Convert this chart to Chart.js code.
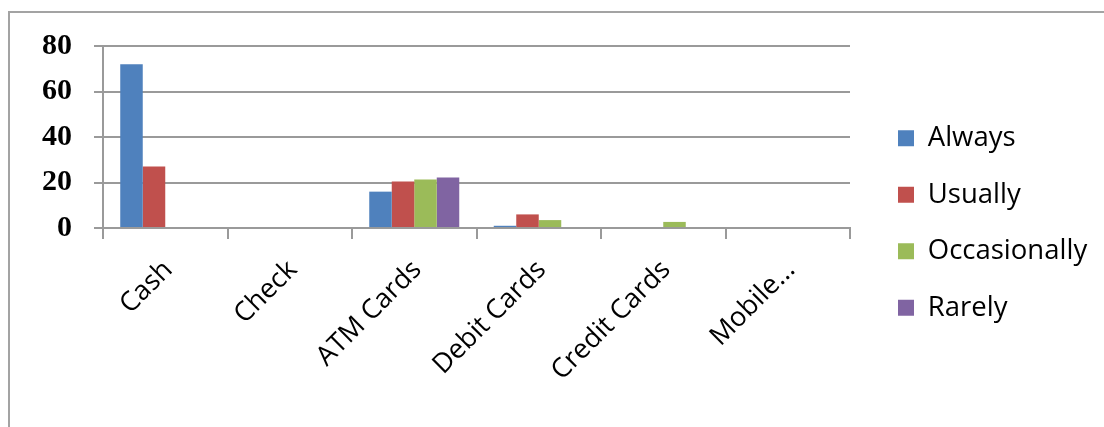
<!DOCTYPE html>
<html>
<head>
<meta charset="utf-8">
<title>Payment methods</title>
<script src="https://cdn.jsdelivr.net/npm/chart.js@4/dist/chart.umd.min.js"></script>
<style>
  html, body { margin: 0; padding: 0; background: #ffffff; }
  #wrap { position: relative; width: 1104px; height: 427px; overflow: hidden; }
  #frame {
    position: absolute; left: 8px; top: 11px; width: 1200px; height: 600px;
    border-top: 2px solid #a3a3a3; border-left: 2px solid #a3a3a3;
  }
  canvas { position: absolute; left: 0; top: 0; }
</style>
</head>
<body>
<div id="wrap">
  <div id="frame"></div>
  <canvas id="chart" width="1104" height="427"></canvas>
</div>
<script>
// Payment methods and how often respondents use them
const categories = ['Cash', 'Check', 'ATM Cards', 'Debit Cards', 'Credit Cards', 'Mobile...'];
const always       = [72, 0, 16, 1, 0, 0];
const usually      = [27, 0, 20.5, 6, 0, 0];
const occasionally = [0, 0, 21.3, 3.5, 2.7, 0];
const rarely       = [0, 0, 22.2, 0, 0, 0];
const yTicks = [0, 20, 40, 60, 80];

const GRID = '#9a9a9a';
const LEGEND_WIDTH = 254;   // space kept on the right for the legend
const LEGEND_SHIFT = 19;    // extra room between plot and legend swatches
const LEGEND_LIFT = 1;

// fixed-width legend column, swatches pushed a little away from the plot
const legendPlacement = {
  id: 'legendPlacement',
  beforeInit(chart) {
    const fit = chart.legend.fit;
    chart.legend.fit = function () {
      fit.call(this);
      this.width = LEGEND_WIDTH;
    };
  },
  afterLayout(chart) {
    const lg = chart.legend;
    lg.left += LEGEND_SHIFT;
    lg.right += LEGEND_SHIFT;
    lg.top -= LEGEND_LIFT;
    lg.bottom -= LEGEND_LIFT;
  }
};

new Chart(document.getElementById('chart'), {
  type: 'bar',
  data: {
    labels: categories,
    datasets: [
      { label: 'Always', data: always, backgroundColor: '#4f81bd' },
      { label: 'Usually', data: usually, backgroundColor: '#c0504d' },
      { label: 'Occasionally', data: occasionally, backgroundColor: '#9bbb59' },
      { label: 'Rarely', data: rarely, backgroundColor: '#8064a2' }
    ]
  },
  options: {
    responsive: false,
    animation: false,
    devicePixelRatio: 1,
    datasets: { bar: { categoryPercentage: 0.723, barPercentage: 1.0 } },
    layout: { padding: { left: 20, top: 46, right: 0, bottom: 25 } },
    plugins: {
      tooltip: { enabled: false },
      legend: {
        position: 'right',
        align: 'center',
        labels: {
          boxWidth: 16,
          boxHeight: 16,
          padding: 29,
          color: '#000000',
          font: { family: '"Open Sans", sans-serif', size: 27.5 }
        }
      }
    },
    scales: {
      x: {
        grid: { display: true, drawOnChartArea: false, drawTicks: true, tickLength: 11, color: GRID, lineWidth: 2, offset: true },
        border: { display: true, color: GRID, width: 2 },
        ticks: {
          color: '#000000',
          minRotation: 45,
          maxRotation: 45,
          autoSkip: false,
          padding: 15,
          labelOffset: 3,
          font: { family: '"Open Sans", sans-serif', size: 27 }
        }
      },
      y: {
        min: 0,
        max: 80,
        afterBuildTicks(scale) { scale.ticks = yTicks.map(v => ({ value: v })); },
        grid: { color: GRID, lineWidth: 2, tickLength: 9 },
        border: { display: true, color: GRID, width: 2 },
        ticks: {
          color: '#000000',
          padding: 22,
          font: { family: '"Liberation Serif", serif', size: 30, weight: 'bold' }
        }
      }
    }
  },
  plugins: [legendPlacement]
});
</script>
</body>
</html>
